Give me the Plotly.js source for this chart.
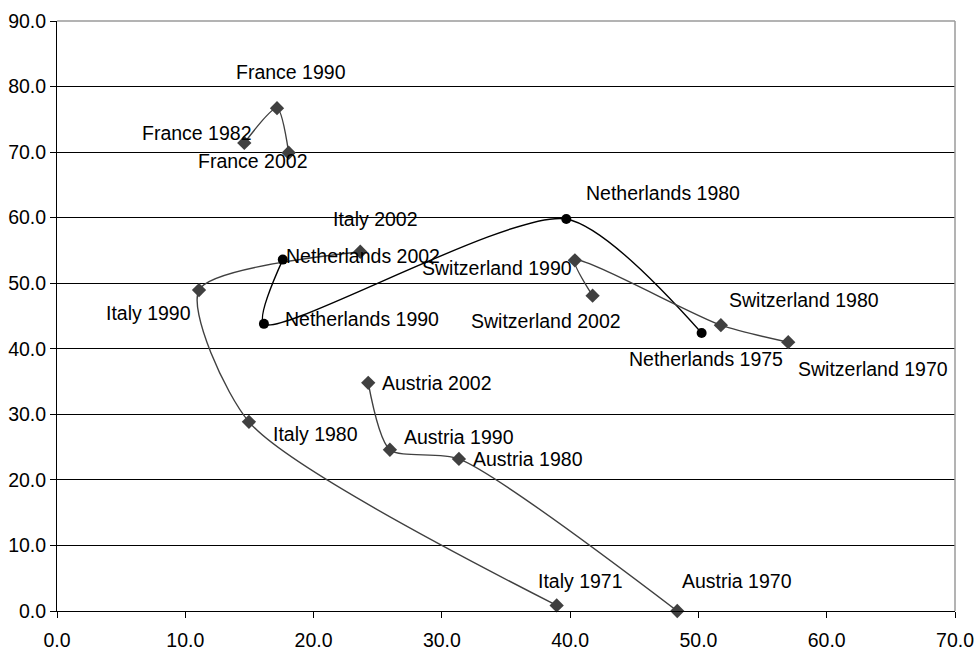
<!DOCTYPE html>
<html>
<head>
<meta charset="utf-8">
<script src="https://cdn.plot.ly/plotly-3.0.1.min.js"></script>
<style>html,body{margin:0;padding:0;background:#fff;}#chart{width:975px;height:650px;}</style>
</head>
<body>
<div id="chart"></div>
<script>
// ---- Data ----
const franceYears = [1982, 1990, 2002];
const franceX = [14.6, 17.15, 18.06];
const franceY = [71.4, 76.7, 69.9];

const italyYears = [1971, 1980, 1990, 2002];
const italyX = [38.95, 14.96, 11.07, 23.64];
const italyY = [0.85, 28.85, 48.96, 54.8];

const netherlandsYears = [1975, 1980, 1990, 2002];
const netherlandsX = [50.25, 39.7, 16.13, 17.6];
const netherlandsY = [42.4, 59.8, 43.8, 53.6];

const switzerlandYears = [1970, 1980, 1990, 2002];
const switzerlandX = [57.0, 51.75, 40.37, 41.75];
const switzerlandY = [41.0, 43.6, 53.5, 48.1];

const austriaYears = [1970, 1980, 1990, 2002];
const austriaX = [48.35, 31.33, 25.95, 24.26];
const austriaY = [0.0, 23.2, 24.6, 34.8];

const xTickVals = [0, 10, 20, 30, 40, 50, 60, 70];
const yTickVals = [0, 10, 20, 30, 40, 50, 60, 70, 80, 90];

// ---- Style: label offsets in pixels [xshift, yshift] ----
const labelShift = {
  "France 1982": [-47, 10], "France 1990": [14, 36], "France 2002": [-36, -8],
  "Italy 1971": [24, 24], "Italy 1980": [67, -12], "Italy 1990": [-51, -23], "Italy 2002": [15, 33],
  "Netherlands 1975": [4, -26], "Netherlands 1980": [97, 26], "Netherlands 1990": [98, 5], "Netherlands 2002": [80, 4],
  "Switzerland 1970": [85, -27], "Switzerland 1980": [83, 25], "Switzerland 1990": [-78, -8], "Switzerland 2002": [-47, -25],
  "Austria 1970": [60, 30], "Austria 1980": [69, 0], "Austria 1990": [69, 13], "Austria 2002": [69, 0]
};

const FONT = "'Liberation Sans', Arial, sans-serif";
const FS = 19.5;
const series = [
  {name: "France", years: franceYears, x: franceX, y: franceY, symbol: "diamond", color: "#404040", line: "#404040"},
  {name: "Italy", years: italyYears, x: italyX, y: italyY, symbol: "diamond", color: "#404040", line: "#404040"},
  {name: "Netherlands", years: netherlandsYears, x: netherlandsX, y: netherlandsY, symbol: "circle", color: "#000000", line: "#000000"},
  {name: "Switzerland", years: switzerlandYears, x: switzerlandX, y: switzerlandY, symbol: "diamond", color: "#404040", line: "#404040"},
  {name: "Austria", years: austriaYears, x: austriaX, y: austriaY, symbol: "diamond", color: "#404040", line: "#404040"}
];

const traces = series.map(s => ({
  type: "scatter", mode: "lines+markers", name: s.name,
  x: s.x, y: s.y, cliponaxis: false,
  line: {color: s.line, width: 1.4, shape: "spline", smoothing: 0.7},
  marker: {symbol: s.symbol, size: s.symbol === "circle" ? 10 : 11, color: s.color},
  hoverinfo: "skip"
}));

const annotations = [];
series.forEach(s => {
  s.years.forEach((yr, i) => {
    const t = s.name + " " + yr;
    const sh = labelShift[t] || [0, 0];
    annotations.push({
      x: s.x[i], y: s.y[i], xref: "x", yref: "y", text: t, showarrow: false,
      xshift: sh[0], yshift: sh[1], xanchor: "center", yanchor: "middle",
      font: {family: FONT, size: FS, color: "#000"}
    });
  });
});

const layout = {
  width: 975, height: 650,
  margin: {l: 57, r: 20, t: 21, b: 39},
  paper_bgcolor: "#fff", plot_bgcolor: "#fff",
  showlegend: false,
  font: {family: FONT, size: FS, color: "#000"},
  xaxis: {
    range: [0, 70], tickvals: xTickVals, tickformat: ".1f",
    showgrid: false, zeroline: false, showline: true, linecolor: "#000", linewidth: 1,
    ticks: "outside", ticklen: 6, tickcolor: "#000", ticklabelstandoff: 6,
    tickfont: {family: FONT, size: FS, color: "#000"}
  },
  yaxis: {
    range: [0, 90], tickvals: yTickVals, tickformat: ".1f",
    showgrid: true, gridcolor: "#000", gridwidth: 1, zeroline: false,
    showline: true, linecolor: "#000", linewidth: 1,
    ticks: "outside", ticklen: 6, tickcolor: "#000",
    tickfont: {family: FONT, size: FS, color: "#000"}
  },
  shapes: [
    {type: "line", xref: "paper", yref: "paper", x0: 0, x1: 1, y0: 1, y1: 1, line: {color: "#9a9a9a", width: 1.5}, layer: "above"},
    {type: "line", xref: "paper", yref: "paper", x0: 1, x1: 1, y0: 0, y1: 1, line: {color: "#9a9a9a", width: 1.5}, layer: "above"}
  ],
  annotations: annotations
};

Plotly.newPlot("chart", traces, layout, {displayModeBar: false, staticPlot: true});
</script>
</body>
</html>
